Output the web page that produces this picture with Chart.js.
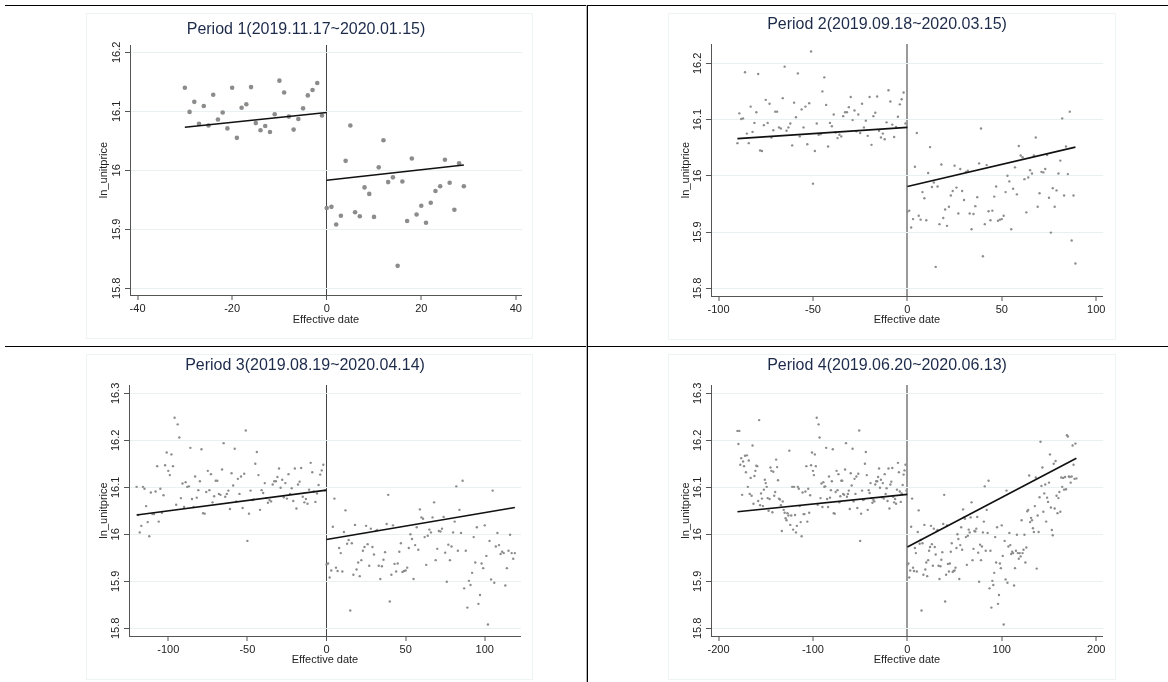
<!DOCTYPE html>
<html>
<head>
<meta charset="utf-8">
<script src="https://cdn.jsdelivr.net/npm/chart.js@4.4.1/dist/chart.umd.min.js"></script>
<style>
  body { margin: 0; background: #fff; }
  #page { position: relative; width: 1168px; height: 682px; overflow: hidden; background: #fff; }
  .rule { position: absolute; background: #000; }
  .frame { position: absolute; border: 1px solid #eef3f4; box-sizing: border-box; }
  canvas { position: absolute; }
</style>
</head>
<body>
<div id="page">
  <div class="frame" style="left:86px;top:13px;width:447px;height:326px"></div>
  <div class="frame" style="left:668px;top:13px;width:448px;height:327px"></div>
  <div class="frame" style="left:86px;top:354px;width:447px;height:326px"></div>
  <div class="frame" style="left:668px;top:354px;width:448px;height:326px"></div>
  <div class="rule" style="left:5px;top:5px;width:1163px;height:1px"></div>
  <div class="rule" style="left:5px;top:346px;width:1163px;height:1px"></div>
  <div class="rule" style="left:586px;top:5px;width:1px;height:677px;background:#b5b5b5"></div>
  <div class="rule" style="left:587px;top:5px;width:1px;height:677px"></div>
</div>
<script>
// daily ln_unitprice, days -180 .. -1 before the effective date
const pricePre = [
  16.220, 16.192, 16.220, 16.148, 16.162, 16.084, 16.155, 16.145, 16.167, 16.132,
  16.168, 16.101, 16.157, 16.086, 16.120, 16.082, 16.189, 16.065, 16.124, 16.135,
  16.146, 16.145, 16.071, 16.243, 16.062, 16.087, 16.076, 16.060, 16.095, 16.116,
  16.109, 16.101, 16.077, 16.050, 16.075, 16.142, 16.135, 16.047, 16.133, 16.082,
  16.090, 16.159, 16.143, 16.115, 16.076, 16.074, 16.062, 16.007, 16.070, 16.052,
  16.046, 16.034, 16.030, 16.045, 16.040, 16.178, 16.020, 16.040, 16.101, 16.010,
  16.101, 16.041, 16.004, 16.018, 16.101, 16.097, 16.060, 16.026, 15.996, 16.089,
  16.043, 16.043, 16.091, 16.145, 16.027, 16.097, 16.046, 16.083, 16.147, 16.174,
  16.135, 16.126, 16.170, 16.145, 16.248, 16.063, 16.234, 16.206, 16.077, 16.108,
  16.058, 16.111, 16.101, 16.102, 16.184, 16.075, 16.058, 16.123, 16.078, 16.094,
  16.113, 16.181, 16.045, 16.044, 16.090, 16.135, 16.094, 16.128, 16.068, 16.081,
  16.114, 16.114, 16.086, 16.084, 16.138, 16.194, 16.080, 16.086, 16.093, 16.054,
  16.130, 16.104, 16.182, 16.070, 16.118, 16.086, 16.123, 16.056, 16.129, 16.221,
  15.986, 16.044, 16.093, 16.073, 16.074, 16.150, 16.175, 16.126, 16.052, 16.094,
  16.088, 16.109, 16.077, 16.067, 16.073, 16.070, 16.106, 16.113, 16.113, 16.122,
  16.140, 16.099, 16.116, 16.079, 16.109, 16.076, 16.128, 16.086, 16.098, 16.071,
  16.140, 16.055, 16.106, 16.112, 16.141, 16.080, 16.068, 16.075, 16.065, 16.095,
  16.152, 16.132, 16.091, 16.069, 16.087, 16.105, 16.127, 16.136, 16.148, 16.093
];
// days 0 .. 179 from the effective date
const pricePost = [
  15.936, 15.938, 15.908, 15.923, 16.016, 16.076, 15.929, 15.922, 15.971, 15.960,
  15.921, 16.005, 16.051, 15.980, 15.988, 15.838, 15.981, 15.914, 16.020, 15.925,
  15.940, 15.911, 15.945, 15.965, 15.973, 16.018, 15.979, 15.933, 16.012, 15.973,
  15.957, 16.007, 16.009, 15.933, 15.905, 15.932, 15.946, 15.962, 16.022, 16.084,
  15.857, 15.914, 16.019, 15.937, 15.921, 15.938, 15.963, 15.981, 15.920, 15.922,
  15.923, 15.929, 15.971, 16.000, 15.990, 15.905, 15.977, 16.015, 15.967, 16.053,
  16.036, 16.033, 15.994, 15.935, 15.997, 16.010, 16.004, 16.036, 16.068, 15.945,
  15.969, 16.007, 16.006, 16.012, 16.037, 15.961, 15.899, 15.978, 15.945, 15.974,
  16.004, 16.027, 16.102, 15.965, 16.052, 16.003, 16.114, 15.885, 15.965, 15.844,
  15.901, 15.892, 15.918, 15.994, 15.940, 16.015, 15.852, 15.871, 15.938, 15.928,
  16.019, 15.954, 15.808, 15.986, 15.904, 16.093, 15.897, 15.974, 16.003, 15.977,
  15.958, 15.963, 15.960, 15.891, 15.928, 15.965, 15.999, 15.960, 15.948, 15.960,
  15.953, 16.030, 15.960, 15.967, 15.999, 15.940, 15.972, 16.049, 16.052, 16.125,
  16.026, 16.035, 16.030, 16.013, 16.005, 16.060, 16.121, 15.927, 16.040, 16.005,
  16.079, 16.197, 16.103, 16.142, 16.048, 16.087, 16.106, 16.027, 16.078, 16.069,
  16.110, 16.170, 16.057, 16.009, 15.998, 16.150, 16.055, 16.156, 16.082, 16.045,
  16.077, 16.090, 16.048, 16.121, 16.101, 16.120, 16.095, 16.122, 16.096, 16.211,
  16.208, 16.123, 16.122, 16.110, 16.123, 16.189, 16.148, 16.118, 16.193, 16.119
];

const titles = [
  'Period 1(2019.11.17~2020.01.15)',
  'Period 2(2019.09.18~2020.03.15)',
  'Period 3(2019.08.19~2020.04.14)',
  'Period 4(2019.06.20~2020.06.13)'
];
const halfWindow = [30, 90, 120, 180];
const xTicks = [
  [-40, -20, 0, 20, 40],
  [-100, -50, 0, 50, 100],
  [-100, -50, 0, 50, 100],
  [-200, -100, 0, 100, 200]
];
const yTicks = [
  [15.8, 15.9, 16, 16.1, 16.2],
  [15.8, 15.9, 16, 16.1, 16.2],
  [15.8, 15.9, 16, 16.1, 16.2, 16.3],
  [15.8, 15.9, 16, 16.1, 16.2, 16.3]
];
// linear fit ends
const fitPreStart = [16.073, 16.066, 16.041, 16.048];
const fitPreEnd = [16.098, 16.086, 16.094, 16.085];
const fitPostStart = [15.983, 15.981, 15.989, 15.973];
const fitPostEnd = [16.009, 16.051, 16.057, 16.162];

const FONT = "'Liberation Sans', Arial, sans-serif";
const AXIS = '#555';

// where each panel sits on the page
const panels = [
  { plotL: 130, plotR: 522, plotT: 45, plotB: 295, top: 8, bottom: 338, titleY: 29.7, yTitleX: 104, xTitleY: 320,
    xMin: -41.6, xMax: 41.3, yMin: 15.7886, yMax: 16.2124, dot: 2.3, zeroColor: '#444', zeroWidth: 1 },
  { plotL: 711, plotR: 1103, plotT: 44, plotB: 296, top: 8, bottom: 338, titleY: 24.3, yTitleX: 685.7, xTitleY: 320,
    xMin: -104.0, xMax: 103.6, yMin: 15.7863, yMax: 16.2343, dot: 1.2, zeroColor: '#9a9a9a', zeroWidth: 2 },
  { plotL: 129, plotR: 521, plotT: 385, plotB: 636, top: 348, bottom: 680, titleY: 365.3, yTitleX: 104, xTitleY: 660,
    xMin: -124.8, xMax: 122.9, yMin: 15.7836, yMax: 16.3177, dot: 1.2, zeroColor: '#444', zeroWidth: 1 },
  { plotL: 711, plotR: 1103, plotT: 385, plotB: 636, top: 348, bottom: 680, titleY: 365.3, yTitleX: 685.7, xTitleY: 660,
    xMin: -208.0, xMax: 207.2, yMin: 15.7836, yMax: 16.3177, dot: 1.2, zeroColor: '#9a9a9a', zeroWidth: 2 }
];

const page = document.getElementById('page');
const yAxisW = 40;

function makePanel(i) {
  const p = panels[i];
  const left = p.plotL - yAxisW;
  const width = (p.plotR - p.plotL) + 2 * yAxisW;
  const height = p.bottom - p.top;

  const canvas = document.createElement('canvas');
  canvas.width = width;
  canvas.height = height;
  canvas.style.left = left + 'px';
  canvas.style.top = p.top + 'px';
  page.appendChild(canvas);

  const h = halfWindow[i];
  const points = [];
  for (let d = -h; d < h; d++) {
    const v = d < 0 ? pricePre[pricePre.length + d] : pricePost[d];
    points.push({ x: d, y: v });
  }

  const titleTop = p.titleY - p.top - 9.6;
  const titleBottom = p.plotT - p.top - titleTop - 19.2;

  new Chart(canvas, {
    type: 'scatter',
    data: {
      datasets: [
        {
          type: 'line',
          data: [{ x: -h, y: fitPreStart[i] }, { x: 0, y: fitPreEnd[i] }],
          borderColor: '#111', borderWidth: 1.6, pointRadius: 0, fill: false
        },
        {
          type: 'line',
          data: [{ x: 0, y: fitPostStart[i] }, { x: h - 1, y: fitPostEnd[i] }],
          borderColor: '#111', borderWidth: 1.6, pointRadius: 0, fill: false
        },
        {
          data: points,
          pointRadius: p.dot, pointHoverRadius: p.dot,
          backgroundColor: '#8c8c8c', borderWidth: 0
        }
      ]
    },
    options: {
      responsive: false,
      animation: false,
      devicePixelRatio: 1,
      layout: { padding: { left: 0, right: yAxisW, top: 0, bottom: 0 } },
      plugins: {
        legend: { display: false },
        tooltip: { enabled: false },
        title: {
          display: true, text: titles[i], color: '#1c2b4a',
          font: { family: FONT, size: 16, weight: 'normal' },
          padding: { top: titleTop, bottom: titleBottom }
        }
      },
      scales: {
        x: {
          type: 'linear', min: p.xMin, max: p.xMax,
          afterBuildTicks: s => { s.ticks = xTicks[i].map(v => ({ value: v })); },
          afterFit: s => { s.height = p.bottom - p.plotB; },
          grid: {
            drawOnChartArea: true,
            color: c => (c.tick && c.tick.value === 0) ? p.zeroColor : 'rgba(0,0,0,0)',
            lineWidth: c => (c.tick && c.tick.value === 0) ? p.zeroWidth : 0,
            tickColor: AXIS, tickLength: 5, tickWidth: 1
          },
          border: { display: true, color: AXIS, width: 1 },
          ticks: {
            color: '#222', font: { family: FONT, size: 11 }, padding: 2,
            maxRotation: 0, autoSkip: false, callback: v => String(v)
          },
          title: {
            display: true, text: 'Effective date', color: '#222',
            font: { family: FONT, size: 11 },
            padding: { top: 0, bottom: p.bottom - p.xTitleY - 6.6 }
          }
        },
        y: {
          type: 'linear', min: p.yMin, max: p.yMax,
          afterBuildTicks: s => { s.ticks = yTicks[i].map(v => ({ value: v })); },
          afterFit: s => { s.width = yAxisW; },
          grid: { color: '#e8f0f2', lineWidth: 1, tickColor: AXIS, tickLength: 5, tickWidth: 1 },
          border: { display: true, color: AXIS, width: 1 },
          ticks: {
            color: '#222', font: { family: FONT, size: 11 },
            minRotation: 90, maxRotation: 90, crossAlign: 'center', padding: -2.7,
            autoSkip: false, callback: v => String(v)
          },
          title: {
            display: true, text: 'ln_unitprice', color: '#222',
            font: { family: FONT, size: 11 },
            padding: { top: p.yTitleX - left - 6.6, bottom: 0 }
          }
        }
      }
    }
  });
}

for (let i = 0; i < panels.length; i++) makePanel(i);
</script>
</body>
</html>
